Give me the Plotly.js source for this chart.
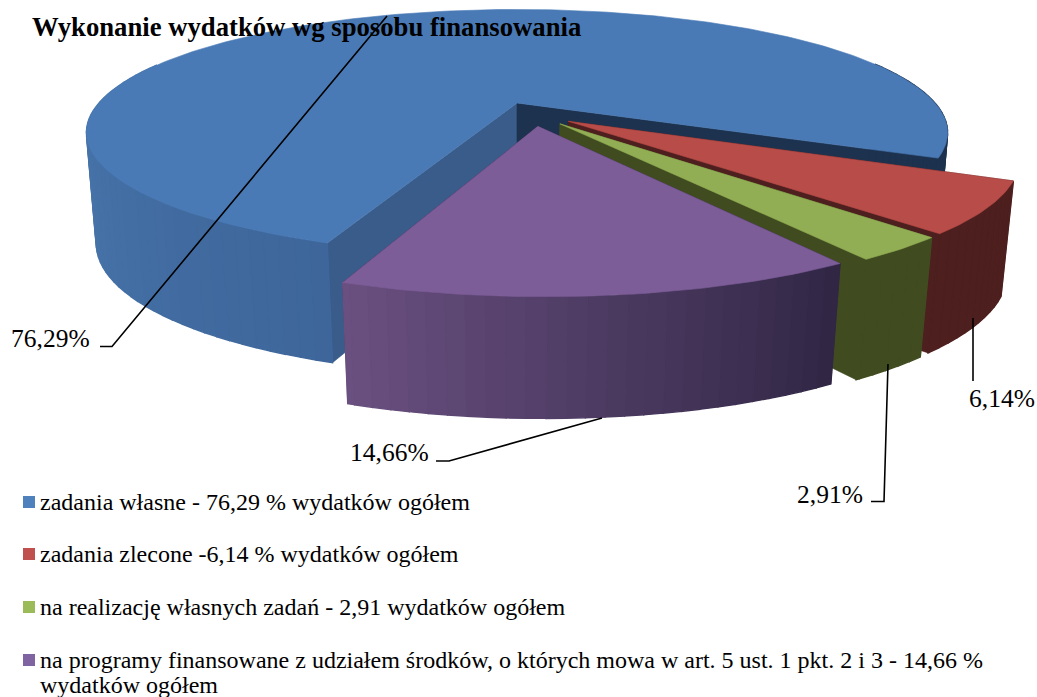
<!DOCTYPE html>
<html><head><meta charset="utf-8">
<script src="https://cdn.plot.ly/plotly-3.0.1.min.js"></script>
<style>html,body{margin:0;padding:0;background:#fff}#c{width:1037px;height:697px}</style>
</head><body><div id="c"></div>
<script>
const chartTitle = 'Wykonanie wydatków wg sposobu finansowania';
const categories = ['zadania własne','zadania zlecone','na realizację własnych zadań','na programy finansowane'];
const values = [76.29, 6.14, 2.91, 14.66];
const legendLines = [
  'zadania własne - 76,29 % wydatków ogółem',
  'zadania zlecone -6,14 % wydatków ogółem',
  'na realizację własnych zadań - 2,91 wydatków ogółem',
  'na programy finansowane z udziałem środków, o których mowa w art. 5 ust. 1 pkt. 2 i 3 - 14,66 %',
  'wydatków ogółem'
];
const legendSwatches = ['#4F81BD','#C0504D','#9BBB59','#8064A2'];

const topCol   = ['rgb(74,122,181)','rgb(184,76,72)','rgb(146,174,84)','rgb(124,93,152)'];
const endWall  = ['rgb(28,50,78)','rgb(77,31,30)','rgb(64,76,32)','rgb(48,38,68)'];
const startWall= ['rgb(57,92,138)','rgb(77,31,30)','rgb(64,76,32)','rgb(48,38,68)'];
// outer wall colour: lighter towards the left of the picture, darker towards the right
const rampFrom = [[62,102,155],[77,31,30],[64,76,32],[48,38,68]];
const rampTo   = [[72,118,172],[77,31,30],[64,76,32],[106,80,128]];

const CX=517, CY=103, R=418, Q=116, P=0.24, T=120, SX=0.022, SY=0.105, E=0.1, START=200.6;
function proj(u,v,h){
  const w=1-P*v;
  return [CX+R*u/(w+SX*h), CY+(Q*v+T*h)/(w+SY*h)];
}
const rad=a=>a*Math.PI/180;
const dir=a=>[Math.sin(rad(a)),-Math.cos(rad(a))];

let ang=START, slices=[];
values.forEach((val,i)=>{const sweep=val/100*360; slices.push({i,a0:ang,a1:ang+sweep,mid:ang+sweep/2}); ang+=sweep;});
const db=dir(slices[0].mid), C=[-E*db[0],-E*db[1]];
slices.forEach(s=>{const d=dir(s.mid); s.c=[C[0]+E*d[0],C[1]+E*d[1]];});

const traces=[];
function poly(pts,color,lw){
  traces.push({type:'scatter',mode:'lines',x:pts.map(p=>p[0]),y:pts.map(p=>p[1]),fill:'toself',
    fillcolor:color,line:{color:color,width:lw===undefined?0.6:lw},hoverinfo:'skip',showlegend:false});
}
const rim=(s,a,h)=>{const d=dir(a);return proj(s.c[0]+d[0],s.c[1]+d[1],h);};
const mix=(i,t)=>'rgb('+rampFrom[i].map((x,k)=>Math.round(x+(rampTo[i][k]-x)*t)).join(',')+')';
slices.forEach(s=>{
  const i=s.i, step=2;
  const apexT=proj(s.c[0],s.c[1],0), apexB=proj(s.c[0],s.c[1],1);
  // inner walls first, outer strips back to front, top face last
  poly([apexT,rim(s,s.a0,0),rim(s,s.a0,1),apexB,apexT],startWall[i]);
  poly([apexT,rim(s,s.a1,0),rim(s,s.a1,1),apexB,apexT],endWall[i]);
  const strips=[];
  for(let a=s.a0;a<s.a1;a+=step){
    const b=Math.min(a+step,s.a1), m=(a+b)/2, v=dir(m)[1];
    if(v<-0.35) continue;
    let col;
    if(i===0) col = m>360 ? endWall[0] : mix(0,Math.min(1,(m-s.a0)/65));
    else col = mix(i,(m-s.a0)/(s.a1-s.a0));
    strips.push({a,b,v,col});
  }
  strips.sort((p,q)=>p.v-q.v).forEach(t=>{
    poly([rim(s,t.a,0),rim(s,t.b,0),rim(s,t.b,1),rim(s,t.a,1),rim(s,t.a,0)],t.col,1.4);
  });
  const pts=[apexT];
  for(let a=s.a0;a<s.a1;a+=1) pts.push(rim(s,a,0));
  pts.push(rim(s,s.a1,0)); pts.push(apexT);
  poly(pts,topCol[i]);
});

const serif='"Liberation Serif","Times New Roman",serif';
const annotations=[];
const txt=(text,x,y,size)=>annotations.push({text,x,y,xref:'x',yref:'y',xanchor:'left',yanchor:'middle',
  showarrow:false,align:'left',borderpad:0,font:{family:serif,size,color:'#000'}});
txt('<b>'+chartTitle+'</b>',31,27,26.7);
const pct=values.map(v=>v.toFixed(2).replace('.',',')+'%');
const labelPos=[[10,338],[968,398],[796,494],[349,452]];
pct.forEach((p,i)=>txt(p,labelPos[i][0],labelPos[i][1],25.5));
const legendY=[502,554,607,660,685];
legendLines.forEach((l,i)=>txt(l,39,legendY[i],24));

const shapes=[];
legendSwatches.forEach((c,i)=>shapes.push({type:'rect',xref:'x',yref:'y',x0:23,x1:35,y0:legendY[i]-6,y1:legendY[i]+6,fillcolor:c,line:{width:0},layer:'above'}));
const leaders=[
  [[100,346.5],[112,346.5],[387,16]],
  [[973,318],[973,381]],
  [[871,501.5],[884,501.5],[888,364]],
  [[436,461],[449,461],[602,418]]
];
leaders.forEach(l=>{
  shapes.push({type:'path',xref:'x',yref:'y',path:'M'+l.map(p=>p.join(',')).join('L'),line:{color:'#000',width:1.6},fillcolor:'rgba(0,0,0,0)',layer:'above'});
});

Plotly.newPlot('c',traces,{
  width:1037,height:697,margin:{l:0,r:0,t:0,b:0},paper_bgcolor:'#fff',plot_bgcolor:'#fff',showlegend:false,
  xaxis:{range:[0,1037],visible:false,fixedrange:true},
  yaxis:{range:[697,0],visible:false,fixedrange:true},
  annotations,shapes,hovermode:false
},{displayModeBar:false,staticPlot:true});
</script></body></html>
